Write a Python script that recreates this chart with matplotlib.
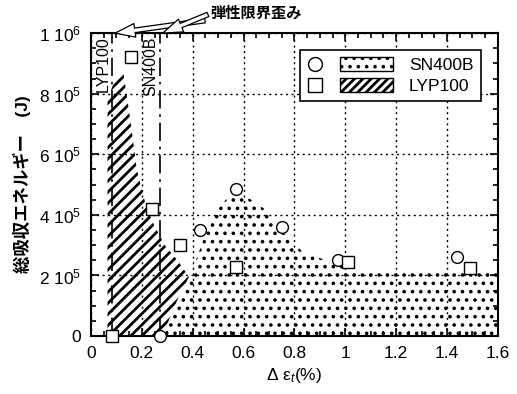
import numpy as np
import matplotlib
matplotlib.use('Agg')
import matplotlib.pyplot as plt
from matplotlib.lines import Line2D
from matplotlib.patches import Rectangle, Patch
from matplotlib.legend_handler import HandlerBase

plt.rcParams['font.family'] = ['Liberation Sans', 'Noto Sans CJK JP', 'DejaVu Sans']
plt.rcParams['mathtext.fontset'] = 'custom'
plt.rcParams['mathtext.rm'] = 'Liberation Sans'
plt.rcParams['mathtext.it'] = 'Liberation Sans:italic'
plt.rcParams['hatch.color'] = 'black'
plt.rcParams['hatch.linewidth'] = 2.0

# measured points
sn_x = [0.27, 0.43, 0.57, 0.75, 0.97, 1.44]
sn_y = [0, 3.5e5, 4.85e5, 3.6e5, 2.5e5, 2.6e5]
lyp_x = [0.083, 0.157, 0.24, 0.35, 0.57, 1.01, 1.49]
lyp_y = [0, 9.2e5, 4.2e5, 3.0e5, 2.28e5, 2.45e5, 2.25e5]

# envelopes of the scatter
lyp_env_x = [0.065, 0.065, 0.10, 0.125, 0.14, 0.16, 0.18, 0.21, 0.24, 0.29, 0.34, 0.39, 0.39]
lyp_env_y = [0, 7.8e5, 8.6e5, 8.8e5, 8.0e5, 6.8e5, 5.5e5, 4.5e5, 3.8e5, 3.0e5, 2.5e5, 1.9e5, 0]
sn_env_x = [0.28, 0.34, 0.40, 0.43, 0.47, 0.53, 0.59, 0.63, 0.69, 0.76, 0.83, 0.94, 1.06, 1.6, 1.6]
sn_env_y = [0, 1.2e5, 2.2e5, 2.9e5, 3.9e5, 4.5e5, 4.7e5, 4.5e5, 4.15e5, 3.4e5, 2.8e5, 2.45e5, 2.1e5, 2.1e5, 0]

# elastic limit strains
lim_x = [0.083, 0.27]
lim_names = ['LYP100', 'SN400B']

yticks = [0, 2e5, 4e5, 6e5, 8e5, 1e6]
ytick_labels = ['0', r'2 10$^5$', r'4 10$^5$', r'6 10$^5$', r'8 10$^5$', r'1 10$^6$']
xticks = [0, 0.2, 0.4, 0.6, 0.8, 1.0, 1.2, 1.4, 1.6]
xtick_labels = ['0', '0.2', '0.4', '0.6', '0.8', '1', '1.2', '1.4', '1.6']


class MarkPatch(HandlerBase):
    # marker on the left, hatched box on the right
    def create_artists(self, legend, orig_handle, xdescent, ydescent,
                       width, height, fontsize, trans):
        mk, pt = orig_handle
        x0 = -xdescent
        y0 = -ydescent
        m = Line2D([x0 + 0.1 * width], [y0 + height / 2], marker=mk.get_marker(),
                   ms=mk.get_markersize(), mfc='white', mec='black', mew=1.0,
                   ls='none', transform=trans)
        with plt.rc_context({'hatch.linewidth': pt.get_hatch_linewidth()}):
            r = Rectangle((x0 + 0.38 * width, y0), 0.62 * width, height,
                          hatch=pt.get_hatch(), fc='white', ec='black', lw=1.0,
                          transform=trans)
        return [m, r]


fig = plt.figure(figsize=(5.17, 3.94), dpi=100)
ax = fig.add_axes([0.176, 0.147, 0.787, 0.769])

ax.fill(lyp_env_x, lyp_env_y, fc='none', ec='black', lw=0, hatch='///', zorder=1)
with plt.rc_context({'hatch.linewidth': 1.4}):
    ax.fill(sn_env_x, sn_env_y, fc='white', ec='black', lw=0, hatch='..', zorder=1.2)
    dot_patch = Patch(hatch='..')

for xl, nm in zip(lim_x, lim_names):
    ax.axvline(xl, color='black', lw=1.2, ls=(0, (11, 3.5, 1.5, 3.5)), zorder=2)
    ax.text(xl - 0.007, 9.88e5, nm, rotation=90, ha='right', va='top',
            fontsize=11.5, zorder=4)

ax.plot(sn_x, sn_y, 'o', ms=8.5, mfc='white', mec='black', mew=1.0, zorder=5, clip_on=False)
ax.plot(lyp_x, lyp_y, 's', ms=8.5, mfc='white', mec='black', mew=1.0, zorder=5, clip_on=False)

ax.set_xlim(0, 1.6)
ax.set_ylim(0, 1e6)
ax.set_xticks(xticks)
ax.set_xticklabels(xtick_labels, fontsize=12.5)
ax.set_yticks(yticks)
ax.set_yticklabels(ytick_labels, fontsize=12.5)
ax.set_xticks(np.arange(0, 1.6001, 0.05), minor=True)
ax.set_yticks(np.arange(0, 1e6 + 1, 5e4), minor=True)
ax.tick_params(which='both', direction='in', top=True, right=True, width=1.2)
ax.tick_params(which='major', length=6, pad=7)
ax.tick_params(which='minor', length=3.5)
for s in ax.spines.values():
    s.set_linewidth(1.5)

ax.set_axisbelow(False)
ax.grid(True, which='major', color='black', lw=1.0, ls=(0, (1.5, 2.5)))

ax.set_xlabel(r'Δ ε$_{t}$(%)', fontsize=12.5, labelpad=4)
ax.set_ylabel('総吸収エネルギー　(J)', fontsize=12.5, fontweight='bold', labelpad=6)

# annotation for the elastic limit strains
for xl in lim_x:
    ax.annotate('弾性限界歪み' if xl == lim_x[0] else '', xy=(xl + 0.012, 1.0e6),
                xytext=(0.47, 1.065e6), fontsize=11, fontweight='bold',
                ha='left', va='center', annotation_clip=False,
                arrowprops=dict(arrowstyle='simple,head_length=1.3,head_width=0.9,tail_width=0.3',
                                fc='white', ec='black', lw=0.9,
                                shrinkA=2, shrinkB=0))

h_sn = (Line2D([], [], marker='o', ms=10, ls='none'), dot_patch)
h_lyp = (Line2D([], [], marker='s', ms=10, ls='none'), Patch(hatch='////'))
leg = ax.legend([h_sn, h_lyp], ['SN400B', 'LYP100'], handler_map={tuple: MarkPatch()},
                loc='upper right', fontsize=12.5, handlelength=5.0, handleheight=0.8,
                handletextpad=0.9, labelspacing=0.3, borderaxespad=1.0,
                fancybox=False, framealpha=1, edgecolor='black')
leg.get_frame().set_linewidth(1.2)
leg.set_zorder(10)

fig.savefig('out.png', dpi=100)
